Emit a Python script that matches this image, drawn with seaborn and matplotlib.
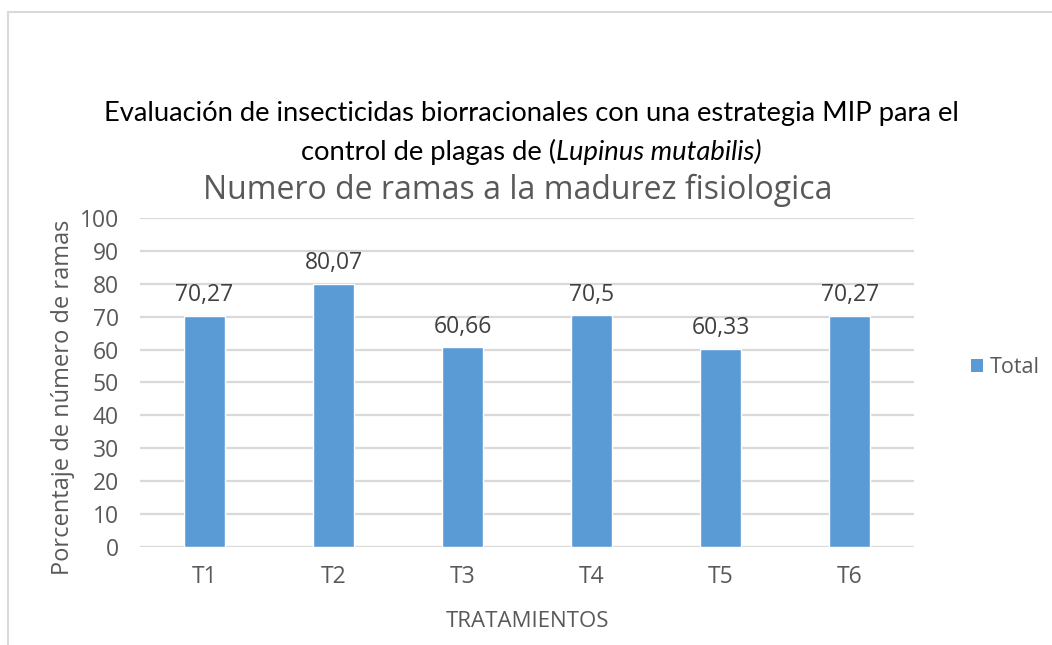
import pandas as pd
import matplotlib
matplotlib.use("Agg")
import matplotlib.pyplot as plt
import seaborn as sns
from matplotlib.lines import Line2D
from matplotlib.patches import Patch

# Data
tratamientos = ["T1", "T2", "T3", "T4", "T5", "T6"]
ramas = [70.27, 80.07, 60.66, 70.5, 60.33, 70.27]
etiquetas = ["70,27", "80,07", "60,66", "70,5", "60,33", "70,27"]
y_ticks = list(range(0, 101, 10))

BAR_COLOR = "#5B9BD5"
GRAY = "#595959"
GRID = "#D9D9D9"

df = pd.DataFrame({"tratamiento": tratamientos, "ramas": ramas})

sns.set_theme(style="white")
plt.rcParams["font.family"] = ["Open Sans", "DejaVu Sans"]

fig = plt.figure(figsize=(10.52, 6.45), dpi=100)
ax = fig.add_axes([0.133, 0.152, 0.736, 0.510])

sns.barplot(data=df, x="tratamiento", y="ramas", color=BAR_COLOR,
            width=0.32, saturation=1, ax=ax)

ax.set_ylim(0, 100)
ax.set_yticks(y_ticks)
ax.set_yticklabels([str(v) for v in y_ticks])
ax.set_xlim(-0.5, len(tratamientos) - 0.5)
ax.yaxis.grid(True, color=GRID, linewidth=1.6)
ax.set_axisbelow(True)
for s in ax.spines.values():
    s.set_visible(False)
ax.tick_params(axis="both", length=0, labelsize=16.5, labelcolor=GRAY)
ax.tick_params(axis="y", pad=15)
ax.tick_params(axis="x", pad=13)

for i, (v, lab) in enumerate(zip(ramas, etiquetas)):
    ax.annotate(lab, (i, v), xytext=(0, 6), textcoords="offset points",
                ha="center", va="bottom", fontsize=16.5, color="#404040")

ax.set_xlabel("TRATAMIENTOS", fontsize=16, color=GRAY, labelpad=16)
ax.set_ylabel("Porcentaje de número de ramas", fontsize=17, color=GRAY)
ax.yaxis.set_label_coords(-0.084, 0.454)

# legend
handles = [Patch(facecolor=BAR_COLOR, edgecolor="none", label="Total")]
fig.legend(handles=handles, loc="center left", bbox_to_anchor=(0.905, 0.43),
           frameon=False, fontsize=15.5, handlelength=0.55, handleheight=0.55,
           handletextpad=0.3, labelcolor=GRAY)

# titles
TFONT = ["Lato", "DejaVu Sans"]
fig.text(0.5 + 5 / 1052, 1 - 113 / 645,
         "Evaluación de insecticidas biorracionales con una estrategia MIP para el",
         ha="center", va="center", fontsize=19.7, color="black", family=TFONT)
y2 = 1 - 152 / 645
ta = fig.text(0, y2, "control de plagas de (", ha="left", va="center", fontsize=19.7,
              color="black", family=TFONT)
tb = fig.text(0, y2, "Lupinus mutabilis)", ha="left", va="center", fontsize=19.7,
              color="black", style="italic", family=TFONT)
fig.canvas.draw()
r = fig.canvas.get_renderer()
wa = ta.get_window_extent(r).width / fig.bbox.width
wb = tb.get_window_extent(r).width / fig.bbox.width
x0 = 0.5 + 5 / 1052 - (wa + wb) / 2
ta.set_x(x0)
tb.set_x(x0 + wa)

fig.text(0.5 - 8 / 1052, 1 - 190 / 645, "Numero de ramas a la madurez fisiologica",
         ha="center", va="center", fontsize=23, color=GRAY)

# outer chart border (left and top only visible)
fig.add_artist(Line2D([8 / 1052, 8 / 1052], [0, 1 - 12 / 645], transform=fig.transFigure,
                      color="#D9D9D9", linewidth=1.5))
fig.add_artist(Line2D([8 / 1052, 1], [1 - 12 / 645, 1 - 12 / 645], transform=fig.transFigure,
                      color="#D9D9D9", linewidth=1.5))

fig.savefig("out.png", dpi=100)
